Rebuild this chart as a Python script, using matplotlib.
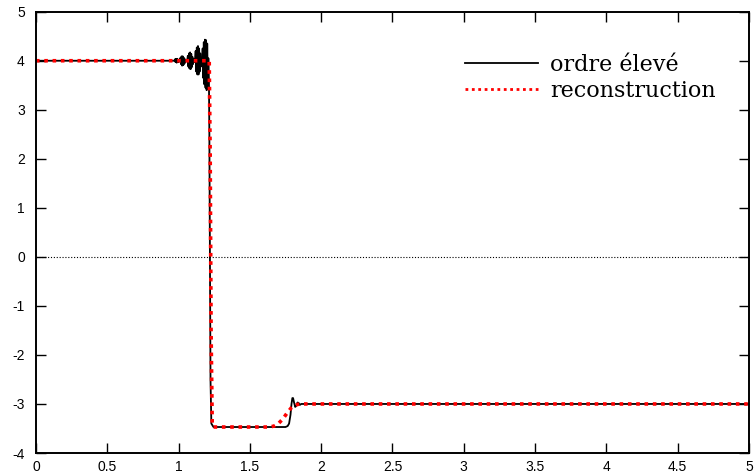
"""
Comparaison solution d'ordre élevé / reconstruction
"""
import matplotlib
matplotlib.use("Agg")
import matplotlib.pyplot as plt

plt.rcParams['axes.unicode_minus'] = False

# Solution d'ordre élevé
x_ordre = [0.0, 0.970,
           0.975, 0.979, 0.983, 0.987, 0.991, 0.995, 0.999, 1.003, 1.008,
           1.013, 1.017, 1.021, 1.025, 1.029, 1.033, 1.037, 1.041, 1.045, 1.050, 1.055, 1.060,
           1.065, 1.069, 1.073, 1.077, 1.081, 1.085, 1.089, 1.093, 1.097, 1.101, 1.105, 1.110, 1.115,
           1.120, 1.124, 1.128, 1.132, 1.136, 1.140, 1.144, 1.148, 1.152, 1.156, 1.160, 1.165,
           1.169, 1.173, 1.177, 1.181, 1.185, 1.189, 1.193, 1.197, 1.201, 1.205, 1.209,
           1.213, 1.216, 1.220, 1.224, 1.230, 1.245,
           1.500, 1.750, 1.765, 1.775, 1.785, 1.792, 1.798, 1.803, 1.810, 1.818, 1.826,
           1.834, 1.842, 1.850, 1.860, 1.880, 5.0]
y_ordre = [4.0, 4.0,
           4.03, 3.97, 4.04, 3.96, 4.04, 3.97, 4.02, 3.98, 4.0,
           4.06, 3.93, 4.09, 3.90, 4.09, 3.91, 4.06, 3.94, 4.03, 3.98, 4.01, 3.99,
           4.10, 3.88, 4.15, 3.84, 4.17, 3.83, 4.14, 3.87, 4.08, 3.93, 4.04, 3.97, 4.0,
           4.20, 3.78, 4.27, 3.72, 4.30, 3.72, 4.25, 3.78, 4.15, 3.88, 4.06, 3.96,
           4.25, 3.65, 4.38, 3.52, 4.43, 3.45, 4.42, 3.40, 4.35, 3.50, 4.05,
           3.60, 2.50, 0.00, -2.50, -3.40, -3.47,
           -3.47, -3.47, -3.45, -3.40, -3.22, -3.00, -2.88, -2.88, -2.97, -3.06, -3.04,
           -2.97, -2.98, -3.02, -3.00, -3.00, -3.00]

# Reconstruction
x_rec = [0.0, 1.215, 1.222, 1.228, 1.236, 1.245, 1.640, 1.670, 1.700, 1.730,
         1.760, 1.790, 1.820, 1.850, 1.880, 5.0]
y_rec = [4.0, 4.0, 2.0, -1.5, -3.40, -3.47, -3.47, -3.45, -3.40, -3.31,
         -3.19, -3.08, -3.02, -3.0, -3.0, -3.0]

xticks = [0, 0.5, 1, 1.5, 2, 2.5, 3, 3.5, 4, 4.5, 5]
xtick_labels = ['0', '0.5', '1', '1.5', '2', '2.5', '3', '3.5', '4', '4.5', '5']
yticks = [-4, -3, -2, -1, 0, 1, 2, 3, 4, 5]


def main():
    fig = plt.figure(figsize=(7.54, 4.74), dpi=100)
    ax = fig.add_axes([0.0477, 0.0443, 0.9456, 0.931])

    # ligne du zéro
    ax.axhline(0, color='black', lw=0.8, ls=(0, (1, 1.6)))

    ax.plot(x_ordre, y_ordre, color='black', lw=1.3, label='ordre élevé')
    ax.plot(x_rec, y_rec, color='red', lw=2.6, ls=(0, (1, 1.3)),
            label='reconstruction')

    ax.set_xlim(0, 5)
    ax.set_ylim(-4, 5)
    ax.set_xticks(xticks)
    ax.set_xticklabels(xtick_labels)
    ax.set_yticks(yticks)
    ax.tick_params(direction='in', top=True, right=True, length=7, width=1,
                   labelsize=10)
    ax.tick_params(axis='y', pad=8)
    ax.tick_params(axis='x', pad=5)
    for lab in ax.get_xticklabels() + ax.get_yticklabels():
        lab.set_fontfamily('Liberation Sans')
    for sp in ax.spines.values():
        sp.set_linewidth(1.4)

    leg = ax.legend(loc='upper right', bbox_to_anchor=(0.966, 0.925),
                    frameon=False, prop={'family': 'DejaVu Serif', 'size': 16},
                    handlelength=3.3, handletextpad=0.55, labelspacing=0.2,
                    borderaxespad=0)
    leg.get_lines()[1].set_linewidth(2.0)

    fig.savefig('out.png', dpi=100)
    plt.close(fig)


if __name__ == "__main__":
    main()
